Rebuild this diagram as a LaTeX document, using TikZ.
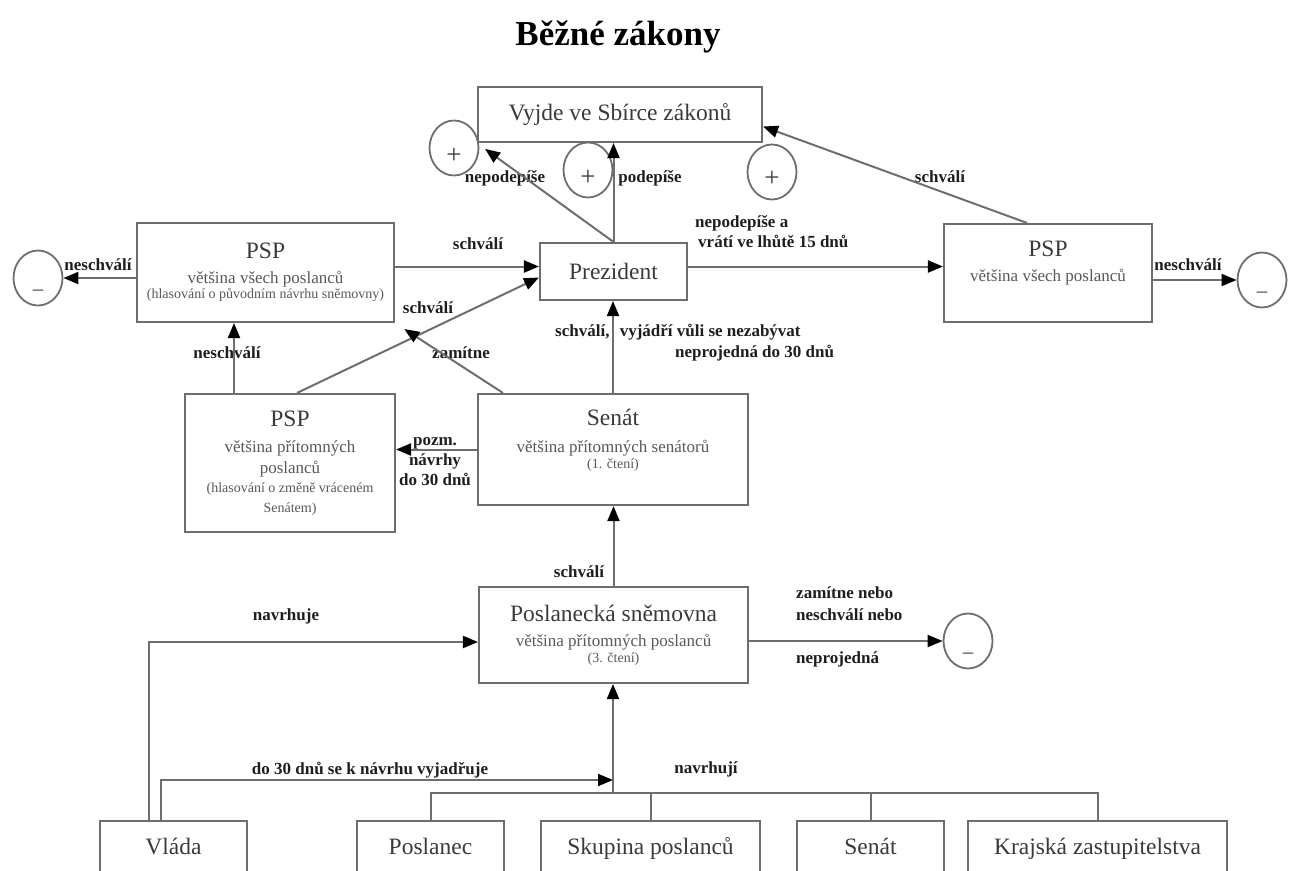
\documentclass[tikz,border=0pt]{standalone}
\usepackage{fontspec}
\setmainfont{Liberation Serif}
\usetikzlibrary{arrows.meta,shapes.geometric,calc}
\definecolor{linecol}{HTML}{6E6E6E}
\definecolor{boxtext}{HTML}{3A3A3A}
\definecolor{subtext}{HTML}{585858}
\definecolor{lblcol}{HTML}{1E1E1E}
\newcommand{\boxhead}[1]{{\fontsize{23.5}{26}\selectfont\color{boxtext}#1}}
\newcommand{\boxsmall}[1]{{\fontsize{14}{16}\selectfont #1}}

\begin{document}
\begin{tikzpicture}[x=1pt,y=-1pt,>={Triangle[length=15pt,width=12pt,color=black]},
  box/.style={draw=linecol,line width=2.1pt,align=center,inner sep=0pt,text=subtext,font=\fontsize{17}{20}\selectfont},
  onebox/.style={box,text=boxtext,font=\fontsize{23.5}{26}\selectfont},
  ell/.style={ellipse,draw=linecol,line width=1.8pt,minimum width=49pt,minimum height=55pt,inner sep=0pt},
  sign/.style={font=\fontsize{27}{30}\selectfont,text=boxtext,inner sep=0pt},
  lbl/.style={font=\fontsize{17}{20}\selectfont\bfseries,text=lblcol,inner sep=0pt,align=center},
  arr/.style={->,draw=linecol,line width=2pt},
  wire/.style={draw=linecol,line width=2pt}]
  \useasboundingbox (0,0) rectangle (1295,870);
  \clip (0,0) rectangle (1295,870);

  \node[font=\fontsize{35}{40}\selectfont\bfseries] (title) at (618,37) {Běžné zákony};

  \node[onebox,minimum width=284pt,minimum height=55pt] (vyjde) at (620,114.5) {Vyjde ve Sbírce zákonů};
  \node[onebox,minimum width=147pt,minimum height=57pt] (prez) at (613.5,271.5) {Prezident};
  \node[box,minimum width=257pt,minimum height=99pt] (pspL) at (265.5,272.5)
    {\boxhead{PSP}\\[5pt] většina všech poslanců\\[-5pt] \boxsmall{(hlasování o původním návrhu sněmovny)}};
  \node[box,minimum width=208pt,minimum height=98pt] (pspR) at (1048,273)
    {\boxhead{PSP}\\[5pt] většina všech poslanců\\[4pt]\mbox{}};
  \node[box,minimum width=210pt,minimum height=138pt] (pspD) at (290,463)
    {\boxhead{PSP}\\[6pt] většina přítomných\\[1pt] poslanců\\[-1pt] \boxsmall{(hlasování o změně vráceném}\\ \boxsmall{Senátem)}};
  \node[box,minimum width=270pt,minimum height=111pt] (senat) at (613,449.5)
    {\boxhead{Senát}\\[7pt] většina přítomných senátorů\\[-4pt] \boxsmall{(1. čtení)}\\[1pt]\mbox{}};
  \node[box,minimum width=269pt,minimum height=96pt] (snem) at (613.5,635)
    {\boxhead{Poslanecká sněmovna}\\[5pt] většina přítomných poslanců\\[-4pt] \boxsmall{(3. čtení)}};
  \foreach \n/\x/\w/\t in {vlada/173.5/147/Vláda,poslanec/430.5/147/Poslanec,skupina/650.5/219/Skupina poslanců,
      senatB/870.5/147/Senát,kraj/1097.5/259/Krajská zastupitelstva}
    \node[onebox,anchor=north,minimum width=\w pt,minimum height=54pt,text height=17pt,text depth=5pt] (\n) at (\x,820) {\t};

  \node[ell,label={[sign,font=\fontsize{21}{24}\selectfont,yshift=-15pt]center:–}] (minusL) at (38,278) {};
  \node[ell,label={[sign,font=\fontsize{21}{24}\selectfont,yshift=-15pt]center:–}] (minusR) at (1262,280) {};
  \node[ell,label={[sign,font=\fontsize{21}{24}\selectfont,yshift=-15pt]center:–}] (minusM) at (968,641) {};
  \node[ell,label={[sign,yshift=-8pt]center:+}] (plusL) at (454,148) {};
  \node[ell,label={[sign,yshift=-8pt]center:+}] (plusM) at (588,170) {};
  \node[ell,label={[sign,yshift=-7pt]center:+}] (plusR) at (772,172) {};

  \node[lbl] (lNeschL) at (98,265) {neschválí};
  \node[lbl] (lSchvL) at (478,244) {schválí};
  \node[lbl] (lSchvD) at (428,308) {schválí};
  \node[lbl] (lZam) at (461,353) {zamítne};
  \node[lbl] (lNeschD) at (227,353) {neschválí};
  \node[lbl] (lNepod) at (505,178) {nepodepíše};
  \node[lbl] (lPod) at (650,178) {podepíše};
  \node[lbl,anchor=west,align=left] (lVrati) at (695,232) {nepodepíše a\\\hspace{3pt}vrátí ve lhůtě 15 dnů};
  \node[lbl] (lSchvR) at (940,177) {schválí};
  \node[lbl] (lNeschR) at (1188,265) {neschválí};
  \node[lbl,anchor=west] (lSenat1) at (555,332) {schválí,\hspace{6pt} vyjádří vůli se nezabývat};
  \node[lbl,anchor=west] (lSenat2) at (675,353) {neprojedná do 30 dnů};
  \node[lbl] (lPozm) at (435,462) {pozm.\\ návrhy\\ do 30 dnů};
  \node[lbl] (lSchvS) at (579,572) {schválí};
  \node[lbl] (lNavrh) at (286,616) {navrhuje};
  \node[lbl,anchor=west,align=left] (lZamN) at (796,604) {zamítne nebo\\[2pt] neschválí nebo};
  \node[lbl,anchor=west] (lNeproj) at (796,659) {neprojedná};
  \node[lbl] (lVyj) at (370,770) {do 30 dnů se k návrhu vyjadřuje};
  \node[lbl] (lNavrhuji) at (706,769) {navrhují};

  \coordinate (bus) at (613,793);
  \coordinate (vyjTip) at (613,780);

  \draw[arr] (pspL.west |- minusL) -- (minusL);
  \draw[arr] ([yshift=5pt]prez.west -| pspL.east) -- ([yshift=5pt]prez.west);
  \draw[arr] ([xshift=-56pt]pspD.north) -- ([xshift=-56pt]pspD.north |- pspL.south);
  \draw[arr] ([xshift=7pt]pspD.north) -- ([yshift=-6pt]prez.west);
  \draw[arr,shorten >=11pt] ([xshift=-110pt]senat.north) -- (pspL.south east);
  \draw[arr] (senat.north) -- (senat.north |- prez.south);
  \draw[arr] (senat.west) -- (senat.west -| pspD.east);
  \draw[arr] (prez.north) -- (prez.north |- vyjde.south);
  \draw[arr,shorten >=10pt] (prez.north) -- (vyjde.south west);
  \draw[arr] ([yshift=5pt]prez.east) -- ([yshift=5pt]prez.east -| pspR.west);
  \draw[arr] ([xshift=-21pt]pspR.north) -- ([yshift=-12pt]vyjde.east);
  \draw[arr] (pspR.east |- minusR) -- (minusR);
  \draw[arr] (snem.north) -- (snem.north |- senat.south);
  \draw[arr] (snem.east |- minusM) -- (minusM);
  \draw[wire] (poslanec.north) |- (bus -| kraj.north) -- (kraj.north);
  \foreach \n in {skupina,senatB} \draw[wire] (\n.north) -- (\n.north |- bus);
  \draw[arr] (bus) -- (bus |- snem.south);
  \draw[arr] ([xshift=-25pt]vlada.north) |- ([yshift=-7pt]snem.west);
  \draw[arr] ([xshift=-13pt]vlada.north) |- (vyjTip);
\end{tikzpicture}
\end{document}
